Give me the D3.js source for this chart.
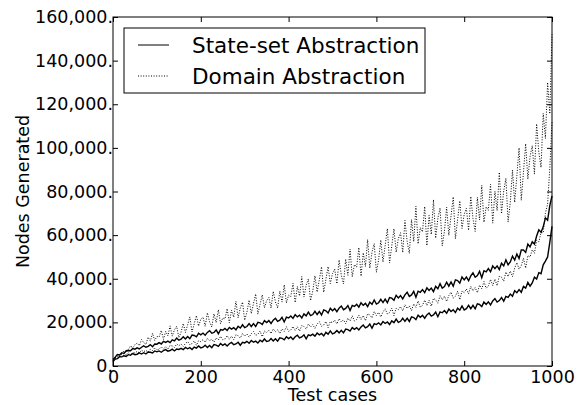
<!DOCTYPE html>
<html>
<head>
<meta charset="utf-8">
<script src="https://cdn.jsdelivr.net/npm/d3@7"></script>
<style>
  body { margin: 0; background: #fff; }
  text { font-family: "DejaVu Sans", sans-serif; fill: #000; }
</style>
</head>
<body>
<div id="chart"></div>
<script>
// nodes generated, in thousands, one value every 5 test cases (0..1000)
const testStep = 5;

const stateSetLower = [2.0,
  3.2, 3.4, 4.3, 4.2, 4.7, 4.4, 5.2, 4.9, 5.7, 5.2,
  5.4, 6.0, 5.5, 6.1, 5.5, 6.4, 6.3, 6.0, 6.9, 6.5,
  6.9, 6.3, 7.1, 7.5, 6.8, 7.1, 7.7, 6.9, 7.8, 7.6,
  8.1, 7.5, 8.5, 7.9, 8.4, 7.6, 8.7, 8.2, 9.2, 8.3,
  8.6, 9.5, 8.5, 9.4, 8.4, 9.8, 9.6, 9.0, 10.3, 9.5,
  10.1, 9.2, 10.2, 10.8, 9.8, 10.1, 10.9, 9.5, 10.9, 10.6,
  11.3, 10.4, 11.7, 10.9, 11.4, 10.5, 11.8, 11.1, 12.4, 11.2,
  11.5, 12.6, 11.5, 12.5, 11.4, 12.9, 12.7, 12.0, 13.4, 12.6,
  13.3, 12.2, 13.4, 14.1, 12.9, 13.3, 14.3, 12.5, 14.3, 13.9,
  14.6, 13.7, 15.1, 14.3, 14.9, 13.8, 15.4, 14.6, 16.1, 14.7,
  15.2, 16.3, 15.2, 16.4, 15.2, 16.9, 16.7, 16.0, 17.6, 16.8,
  17.6, 16.5, 17.9, 18.8, 17.5, 18.0, 19.2, 17.3, 19.4, 19.0,
  19.8, 18.8, 20.4, 19.5, 20.2, 19.0, 20.7, 19.9, 21.5, 20.0,
  20.5, 21.9, 20.5, 21.9, 20.4, 22.5, 22.2, 21.3, 23.3, 22.3,
  23.2, 21.9, 23.4, 24.3, 22.9, 23.4, 24.7, 22.6, 24.8, 24.4,
  25.4, 24.2, 26.1, 25.0, 25.8, 24.5, 26.5, 25.6, 27.5, 25.7,
  26.3, 27.8, 26.3, 27.8, 26.2, 28.5, 28.2, 27.2, 29.3, 28.2,
  29.4, 28.0, 29.8, 30.9, 29.3, 30.0, 31.4, 29.7, 31.9, 31.5,
  33.0, 32.0, 34.5, 33.6, 35.0, 33.8, 36.5, 35.7, 38.3, 36.6,
  38.1, 40.7, 39.9, 42.8, 42.3, 46.4, 48.1, 50.0, 56.7, 64.0];

const stateSetUpper = [3.0,
  4.0, 5.3, 5.1, 6.1, 5.8, 7.0, 7.1, 7.0, 8.0, 7.7,
  8.3, 7.8, 8.6, 9.2, 8.6, 9.0, 9.8, 8.8, 10.1, 10.0,
  10.7, 10.1, 11.3, 10.8, 11.4, 10.7, 12.0, 11.5, 12.8, 11.8,
  12.3, 13.4, 12.4, 13.5, 12.5, 14.2, 14.0, 13.4, 15.0, 14.3,
  15.1, 14.1, 15.4, 16.2, 15.0, 15.4, 16.5, 14.8, 16.7, 16.4,
  17.2, 16.3, 17.7, 16.9, 17.6, 16.6, 18.2, 17.4, 18.9, 17.6,
  18.1, 19.4, 18.1, 19.4, 18.1, 20.0, 19.8, 19.0, 20.8, 19.9,
  20.8, 19.5, 21.0, 21.9, 20.5, 21.0, 22.3, 20.2, 22.4, 22.0,
  22.9, 21.8, 23.5, 22.5, 23.3, 22.0, 23.9, 23.0, 24.7, 23.1,
  23.6, 25.1, 23.6, 25.0, 23.4, 25.7, 25.3, 24.3, 26.5, 25.3,
  26.3, 24.9, 26.5, 27.5, 25.8, 26.4, 27.7, 25.4, 27.8, 27.3,
  28.3, 27.0, 29.0, 27.8, 28.7, 27.2, 29.3, 28.3, 30.3, 28.4,
  29.0, 30.6, 29.1, 30.7, 29.0, 31.4, 31.1, 30.1, 32.4, 31.2,
  32.3, 30.8, 32.6, 33.8, 31.9, 32.6, 34.2, 31.5, 34.3, 33.8,
  35.0, 33.6, 35.8, 34.6, 35.7, 34.1, 36.5, 35.4, 37.7, 35.7,
  36.4, 38.4, 36.6, 38.5, 36.6, 39.5, 39.2, 38.0, 40.8, 39.5,
  40.8, 39.1, 41.3, 42.7, 40.7, 41.5, 43.4, 40.5, 43.7, 43.2,
  44.7, 43.2, 45.9, 44.6, 45.9, 44.2, 47.1, 45.9, 48.7, 46.4,
  47.7, 50.4, 48.6, 51.3, 49.3, 53.2, 53.2, 52.1, 55.9, 54.6,
  57.0, 55.9, 59.6, 62.4, 61.3, 63.8, 67.9, 66.8, 73.5, 78.0];

const domainLower = [2.5,
  3.5, 3.4, 4.6, 5.3, 4.8, 5.3, 6.0, 5.1, 6.2, 6.0,
  6.7, 6.0, 7.2, 6.6, 7.1, 6.4, 7.7, 7.1, 8.3, 7.3,
  7.7, 8.8, 7.7, 8.9, 7.7, 9.4, 9.2, 8.5, 10.1, 9.3,
  10.1, 9.0, 10.3, 11.2, 9.8, 10.3, 11.5, 9.5, 11.6, 11.2,
  12.1, 10.9, 12.6, 11.6, 12.3, 11.0, 12.9, 11.9, 13.6, 12.0,
  12.4, 13.9, 12.3, 13.7, 12.1, 14.3, 13.9, 12.8, 14.9, 13.7,
  14.7, 13.2, 14.8, 15.8, 14.0, 14.6, 16.0, 13.4, 16.0, 15.4,
  16.4, 14.9, 17.0, 15.7, 16.6, 14.9, 17.1, 15.9, 18.0, 15.9,
  16.5, 18.1, 16.3, 18.0, 16.0, 18.5, 18.1, 16.9, 19.3, 17.9,
  19.0, 17.2, 19.2, 20.3, 18.2, 18.8, 20.4, 17.6, 20.4, 19.8,
  21.0, 19.3, 21.7, 20.2, 21.2, 19.4, 21.9, 20.6, 23.0, 20.6,
  21.3, 23.3, 21.3, 23.1, 20.8, 23.9, 23.4, 22.1, 25.0, 23.2,
  24.6, 22.5, 24.8, 26.2, 23.8, 24.5, 26.5, 23.1, 26.5, 25.8,
  27.2, 25.3, 28.1, 26.4, 27.6, 25.4, 28.5, 26.9, 29.8, 27.0,
  27.8, 30.2, 27.7, 30.1, 27.4, 31.0, 30.4, 28.8, 32.2, 30.4,
  32.0, 29.6, 32.3, 33.9, 31.1, 32.0, 34.3, 30.4, 34.4, 33.6,
  35.3, 33.1, 36.5, 34.5, 36.0, 33.6, 37.1, 35.4, 38.7, 35.6,
  36.7, 39.7, 36.9, 39.8, 36.8, 41.2, 40.7, 38.9, 43.1, 41.0,
  43.5, 41.0, 44.9, 47.4, 44.4, 46.0, 49.4, 44.9, 50.6, 50.0,
  53.3, 51.7, 57.6, 56.9, 61.2, 61.1, 70.0, 74.3, 90.7, 112.0];

const domainUpper = [3.0,
  3.6, 4.5, 4.7, 5.7, 7.0, 6.2, 7.6, 9.2, 8.3, 9.8,
  10.5, 9.3, 12.1, 10.7, 9.9, 13.2, 11.4, 15.0, 11.7, 13.5,
  13.3, 16.3, 12.2, 15.9, 13.8, 18.4, 13.7, 16.6, 18.2, 13.0,
  15.5, 19.5, 15.4, 18.9, 22.5, 15.6, 19.3, 23.1, 18.3, 21.4,
  22.4, 18.2, 24.4, 20.2, 17.9, 23.9, 19.9, 25.8, 19.4, 22.0,
  21.6, 26.3, 19.8, 25.6, 22.4, 29.6, 22.1, 26.6, 29.3, 21.0,
  24.6, 30.2, 24.0, 28.6, 33.0, 23.8, 28.3, 32.6, 26.7, 30.0,
  31.4, 26.6, 34.2, 29.4, 26.6, 34.3, 29.3, 37.2, 28.9, 32.5,
  31.8, 37.9, 29.1, 36.5, 32.1, 41.0, 31.6, 37.0, 39.9, 30.0,
  34.3, 41.4, 33.9, 39.6, 45.5, 33.8, 39.7, 45.6, 37.8, 42.4,
  44.4, 37.7, 48.6, 41.7, 37.6, 49.0, 41.6, 53.6, 40.9, 46.5,
  45.3, 54.3, 41.2, 51.9, 45.6, 58.0, 44.9, 52.2, 56.1, 43.0,
  48.6, 57.7, 47.7, 55.3, 63.0, 47.2, 55.0, 62.9, 52.2, 58.4,
  61.1, 52.0, 66.7, 57.2, 51.6, 67.1, 57.0, 73.2, 56.0, 63.5,
  61.5, 73.1, 55.2, 69.0, 60.3, 76.2, 58.6, 67.7, 72.4, 55.0,
  61.8, 72.8, 59.9, 68.8, 77.5, 58.3, 67.1, 75.7, 63.1, 69.6,
  72.3, 62.2, 77.7, 67.6, 61.7, 77.3, 67.0, 82.8, 65.9, 73.0,
  71.4, 83.3, 65.5, 80.1, 71.2, 88.8, 69.8, 80.3, 86.1, 66.0,
  75.1, 89.8, 75.0, 87.4, 100.0, 76.0, 88.8, 101.9, 85.7, 96.0,
  101.0, 88.0, 111.0, 98.0, 91.0, 115.8, 104.3, 130.0, 115.6, 152.0];

const xTicks = [0, 200, 400, 600, 800, 1000];
const yTicks = [0, 20000, 40000, 60000, 80000, 100000, 120000, 140000, 160000];
const legendLabels = ["State-set Abstraction", "Domain Abstraction"];

const margin = { top: 17, right: 35, bottom: 39, left: 113 };
const width = 587 - margin.left - margin.right;
const height = 405 - margin.top - margin.bottom;

const svg = d3.select("#chart")
  .append("svg")
  .attr("width", 587)
  .attr("height", 405);

const chart = svg.append("g")
  .attr("transform", `translate(${margin.left},${margin.top})`);

const x = d3.scaleLinear().domain([0, 1000]).range([0, width]);
const y = d3.scaleLinear().domain([0, 160000]).range([height, 0]);

const line = d3.line()
  .x((d, i) => x(i * testStep))
  .y(d => y(d * 1000));

const dots = "1,1.6";

chart.append("path").datum(domainUpper)
  .attr("fill", "none").attr("stroke", "#000").attr("stroke-width", 1)
  .attr("stroke-dasharray", dots).attr("d", line);

chart.append("path").datum(domainLower)
  .attr("fill", "none").attr("stroke", "#000").attr("stroke-width", 1)
  .attr("stroke-dasharray", dots).attr("d", line);

chart.append("path").datum(stateSetUpper)
  .attr("fill", "none").attr("stroke", "#000").attr("stroke-width", 1.4)
  .attr("d", line);

chart.append("path").datum(stateSetLower)
  .attr("fill", "none").attr("stroke", "#000").attr("stroke-width", 1.4)
  .attr("d", line);

// axes with inward ticks on all four sides
const tickFont = "17.5px";

chart.append("g")
  .attr("transform", `translate(0,${height})`)
  .call(d3.axisBottom(x).tickValues(xTicks).tickSize(-5).tickPadding(5)
    .tickFormat(d3.format("d")))
  .call(g => g.select(".domain").remove())
  .call(g => g.selectAll("text").style("font-size", tickFont));

chart.append("g")
  .call(d3.axisTop(x).tickValues(xTicks).tickSize(-5).tickFormat(""))
  .call(g => g.select(".domain").remove());

chart.append("g")
  .call(d3.axisLeft(y).tickValues(yTicks).tickSize(-5).tickPadding(0)
    .tickFormat(d => d3.format(",")(d) + "."))
  .call(g => g.select(".domain").remove())
  .call(g => g.selectAll("text").style("font-size", tickFont));

chart.append("g")
  .attr("transform", `translate(${width},0)`)
  .call(d3.axisRight(y).tickValues(yTicks).tickSize(-5).tickFormat(""))
  .call(g => g.select(".domain").remove());

chart.append("rect")
  .attr("width", width)
  .attr("height", height)
  .attr("fill", "none")
  .attr("stroke", "#000")
  .attr("stroke-width", 1);

svg.append("text")
  .attr("x", margin.left + width / 2)
  .attr("y", 401)
  .attr("text-anchor", "middle")
  .style("font-size", tickFont)
  .text("Test cases");

svg.append("text")
  .attr("transform", "rotate(-90)")
  .attr("x", -(margin.top + height / 2))
  .attr("y", 29)
  .attr("text-anchor", "middle")
  .style("font-size", tickFont)
  .text("Nodes Generated");

// legend
const legend = svg.append("g").attr("transform", "translate(124,28)");

legend.append("rect")
  .attr("width", 301)
  .attr("height", 65)
  .attr("fill", "#fff")
  .attr("stroke", "#000")
  .attr("stroke-width", 1);

legendLabels.forEach((label, i) => {
  const cy = 17 + i * 31;
  legend.append("line")
    .attr("x1", 14).attr("x2", 45)
    .attr("y1", cy).attr("y2", cy)
    .attr("stroke", "#000")
    .attr("stroke-width", 1)
    .attr("stroke-dasharray", i === 1 ? dots : null);
  legend.append("text")
    .attr("x", 68)
    .attr("y", cy)
    .attr("dy", "0.36em")
    .style("font-size", "21.5px")
    .text(label);
});
</script>
</body>
</html>
